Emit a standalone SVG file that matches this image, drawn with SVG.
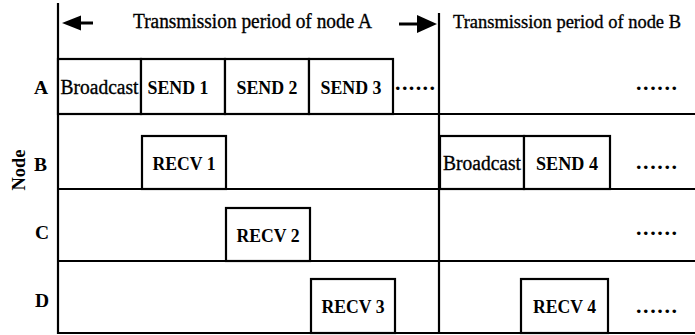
<svg xmlns="http://www.w3.org/2000/svg" width="695" height="335" viewBox="0 0 695 335">
<style>
.ln{stroke:#000;stroke-width:2.2;fill:none}
.bx{stroke:#000;stroke-width:2.2;fill:#fff}
.t{font-family:"Liberation Serif","Times New Roman",serif;font-size:20.5px;fill:#000;stroke:#000;stroke-width:0.35}
.s{font-size:19px}
.b{font-family:"Liberation Serif","Times New Roman",serif;font-size:19.5px;font-weight:bold;fill:#000}
.m{text-anchor:middle}
.d{font-family:"Liberation Serif","Times New Roman",serif;font-size:22px;font-weight:bold;fill:#000}
</style>
<rect width="695" height="335" fill="#fff"/>
<g id="grid">
<line class="ln" x1="58" y1="3" x2="58" y2="334"/>
<line class="ln" x1="439" y1="13" x2="439" y2="334"/>
<line class="ln" x1="58" y1="114" x2="695" y2="114"/>
<line class="ln" x1="58" y1="189" x2="695" y2="189"/>
<line class="ln" x1="58" y1="261" x2="695" y2="261"/>
<line class="ln" x1="58" y1="333" x2="695" y2="333"/>
</g>
<g id="period-labels">
<text class="t" x="133" y="28" textLength="239" lengthAdjust="spacingAndGlyphs">Transmission period of node A</text>
<text class="t s" x="453" y="28" textLength="228" lengthAdjust="spacingAndGlyphs">Transmission period of node B</text>
</g>
<g id="connectors">
<line x1="78" y1="23" x2="93" y2="23" stroke="#000" stroke-width="3"/>
<polygon points="62,23 81,15.5 81,30.5" fill="#000"/>
<line x1="399" y1="24" x2="420" y2="24" stroke="#000" stroke-width="3"/>
<polygon points="437,24 417,15 417,33" fill="#000"/>
</g>
<g id="axis-label">
<text class="b m" transform="translate(25,170) rotate(-90)" textLength="41" lengthAdjust="spacingAndGlyphs">Node</text>
</g>
<g id="node-A">
<text class="b" x="34" y="94">A</text>
<g id="A-broadcast"><rect class="bx" x="58" y="59" width="83" height="55"/><text class="t m" x="99.5" y="94" textLength="78" lengthAdjust="spacingAndGlyphs">Broadcast</text></g>
<g id="A-send1"><rect class="bx" x="141" y="59" width="84" height="55"/><text class="b m" x="178" y="94" textLength="61" lengthAdjust="spacingAndGlyphs">SEND 1</text></g>
<g id="A-send2"><rect class="bx" x="225" y="59" width="84" height="55"/><text class="b m" x="267" y="94" textLength="61" lengthAdjust="spacingAndGlyphs">SEND 2</text></g>
<g id="A-send3"><rect class="bx" x="309" y="59" width="84" height="55"/><text class="b m" x="351" y="94" textLength="61" lengthAdjust="spacingAndGlyphs">SEND 3</text></g>
<text class="d" x="395" y="90" textLength="40" lengthAdjust="spacing">......</text>
<text class="d" x="636" y="90" textLength="41" lengthAdjust="spacing">......</text>
</g>
<g id="node-B">
<text class="b" x="34" y="171">B</text>
<g id="B-recv1"><rect class="bx" x="142" y="136" width="84" height="53"/><text class="b m" x="184" y="170" textLength="63" lengthAdjust="spacingAndGlyphs">RECV 1</text></g>
<g id="B-broadcast"><rect class="bx" x="440" y="136" width="84" height="53"/><text class="t m" x="482" y="170" textLength="78" lengthAdjust="spacingAndGlyphs">Broadcast</text></g>
<g id="B-send4"><rect class="bx" x="524" y="136" width="86" height="53"/><text class="b m" x="567" y="170" textLength="62" lengthAdjust="spacingAndGlyphs">SEND 4</text></g>
<text class="d" x="636" y="169" textLength="41" lengthAdjust="spacing">......</text>
</g>
<g id="node-C">
<text class="b" x="35" y="239">C</text>
<g id="C-recv2"><rect class="bx" x="226" y="208" width="84" height="53"/><text class="b m" x="268" y="242" textLength="63" lengthAdjust="spacingAndGlyphs">RECV 2</text></g>
<text class="d" x="636" y="235" textLength="41" lengthAdjust="spacing">......</text>
</g>
<g id="node-D">
<text class="b" x="35" y="307">D</text>
<g id="D-recv3"><rect class="bx" x="311" y="279" width="84" height="54"/><text class="b m" x="353" y="313" textLength="63" lengthAdjust="spacingAndGlyphs">RECV 3</text></g>
<g id="D-recv4"><rect class="bx" x="521" y="279" width="87" height="54"/><text class="b m" x="564.5" y="313" textLength="63" lengthAdjust="spacingAndGlyphs">RECV 4</text></g>
<text class="d" x="636" y="313" textLength="41" lengthAdjust="spacing">......</text>
</g>
</svg>
